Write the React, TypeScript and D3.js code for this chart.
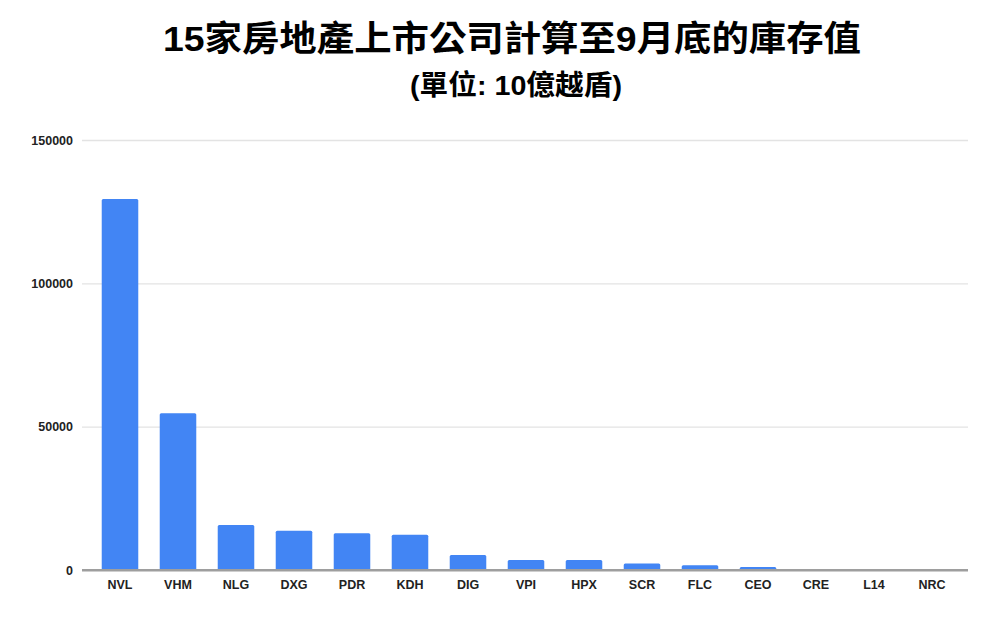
import * as React from 'react';
import * as d3 from 'd3';

const titleText = '15家房地產上市公司計算至9月底的庫存值';
const subtitleText = '(單位: 10億越盾)';
const companies = ['NVL', 'VHM', 'NLG', 'DXG', 'PDR', 'KDH', 'DIG', 'VPI', 'HPX', 'SCR', 'FLC', 'CEO', 'CRE', 'L14', 'NRC'];
const inventory = [129400, 54650, 15700, 13700, 12800, 12300, 5230, 3490, 3450, 2300, 1640, 1050, 250, 200, 30];
const yTicks = [0, 50000, 100000, 150000];

const W = 1000;
const H = 624;
const margin = {top: 140, right: 32, bottom: 54, left: 82};
const fontStack = '"Liberation Sans", Arial, "Noto Sans CJK TC", sans-serif';

export default function App() {
    const ref = React.useRef<SVGSVGElement>(null);

    React.useEffect(() => {
        const svg = d3.select(ref.current);
        svg.selectAll('*').remove();

        const data = companies.map((c, i) => ({name: c, value: inventory[i]}));

        const xScale = d3.scaleBand()
            .domain(companies)
            .range([91, 961])
            .paddingInner(0.37)
            .paddingOuter(0.185);
        const yScale = d3.scaleLinear()
            .domain([0, 150000])
            .range([H - margin.bottom, margin.top]);

        svg.append('rect').attr('width', W).attr('height', H).attr('fill', '#ffffff');

        // titles (squeezed a bit, like the original image)
        svg.append('text')
            .attr('x', 512)
            .attr('y', 51)
            .attr('text-anchor', 'middle')
            .attr('font-family', fontStack)
            .attr('font-weight', 'bold')
            .attr('font-size', 35)
            .attr('textLength', 698)
            .attr('lengthAdjust', 'spacingAndGlyphs')
            .attr('fill', '#000')
            .text(titleText);
        svg.append('text')
            .attr('x', 516)
            .attr('y', 95)
            .attr('text-anchor', 'middle')
            .attr('font-family', fontStack)
            .attr('font-weight', 'bold')
            .attr('font-size', 28)
            .attr('textLength', 212)
            .attr('lengthAdjust', 'spacingAndGlyphs')
            .attr('fill', '#000')
            .text(subtitleText);

        // grid + y labels
        const yAxis = d3.axisLeft(yScale)
            .tickValues(yTicks)
            .tickSize(-(968 - margin.left))
            .tickPadding(9)
            .tickFormat(d3.format('d'));
        const gy = svg.append('g')
            .attr('transform', 'translate(' + margin.left + ',0)')
            .call(yAxis);
        gy.select('.domain').remove();
        gy.selectAll('.tick line')
            .attr('stroke', (d: any) => d === 0 ? '#9e9e9e' : '#e3e3e3')
            .attr('stroke-width', (d: any) => d === 0 ? 2 : 1.3);
        gy.selectAll('.tick text')
            .attr('font-family', fontStack)
            .attr('font-weight', 'bold')
            .attr('font-size', 12.5)
            .attr('fill', '#222');

        // bars
        svg.append('g').selectAll('.bar')
            .data(data)
            .enter()
            .append('rect')
            .attr('class', 'bar')
            .attr('x', d => xScale(d.name))
            .attr('y', d => yScale(d.value))
            .attr('width', xScale.bandwidth())
            .attr('height', d => yScale(0) - yScale(d.value))
            .attr('rx', 1.5)
            .attr('fill', '#4285f4');

        // baseline over bars
        svg.append('line')
            .attr('x1', margin.left)
            .attr('x2', 968)
            .attr('y1', yScale(0))
            .attr('y2', yScale(0))
            .attr('stroke', '#9e9e9e')
            .attr('stroke-width', 2);

        // x labels
        const xAxis = d3.axisBottom(xScale).tickSize(0).tickPadding(10);
        const gx = svg.append('g')
            .attr('transform', 'translate(0,' + yScale(0) + ')')
            .call(xAxis);
        gx.select('.domain').remove();
        gx.selectAll('.tick text')
            .attr('font-family', fontStack)
            .attr('font-weight', 'bold')
            .attr('font-size', 12.5)
            .attr('fill', '#222');
    }, []);

    return (
        <svg ref={ref} width={W} height={H} style={{position: 'absolute', left: 0, top: 0}}></svg>
    );
}
